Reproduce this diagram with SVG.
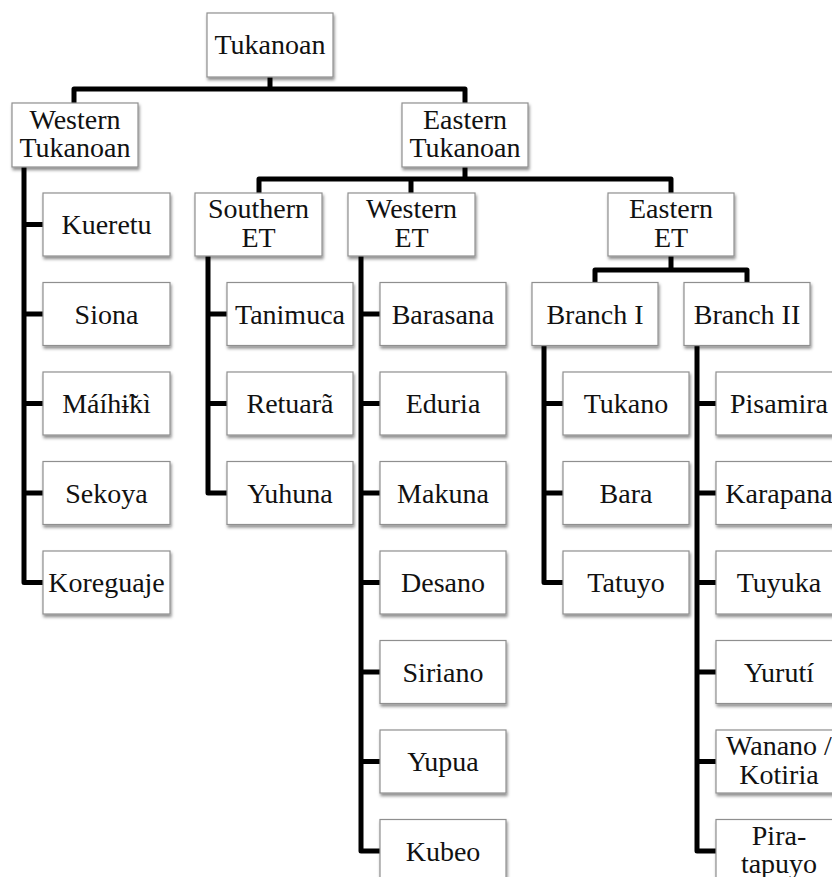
<svg xmlns="http://www.w3.org/2000/svg" width="832" height="877" viewBox="0 0 832 877">
<defs>
<filter id="sh" x="-10%" y="-10%" width="130%" height="140%">
<feDropShadow dx="1" dy="2.5" stdDeviation="1.5" flood-color="#000" flood-opacity="0.45"/>
</filter>
<style>
.b{fill:#fff;stroke:#8f8f8f;stroke-width:1.2;filter:url(#sh)}
.t{font-family:"Liberation Serif","Times New Roman",serif;font-size:28px;fill:#111;text-anchor:middle}
.c{fill:none;stroke:#000;stroke-width:5;stroke-linejoin:round}
</style>
</defs>
<rect width="832" height="877" fill="#fff"/>
<g id="connectors" class="c">
<path d="M270,77V89M74,103V89H465V103"/>
<path d="M465,167V179M259,193V179H671V193M411,179V193"/>
<path d="M671,256V270M595,283V270H747V283"/>
<path d="M24,167V582.5H43M24,224.5H43M24,314H43M24,403.5H43M24,493H43"/>
<path d="M208,256V493H227M208,314H227M208,403.5H227"/>
<path d="M361,256V851H380M361,314H380M361,403.5H380M361,493H380M361,582.5H380M361,672H380M361,761.5H380"/>
<path d="M544,345V582.5H563M544,403.5H563M544,493H563"/>
<path d="M697,345V851H716M697,403.5H716M697,493H716M697,582.5H716M697,672H716M697,761.5H716"/>
</g>
<g id="n-tukanoan"><rect class="b" x="207" y="13" width="126" height="64"/><text class="t" x="270" y="54">Tukanoan</text></g>
<g id="n-western-tukanoan"><rect class="b" x="12" y="103" width="126" height="64"/><text class="t" x="75" y="128.5">Western</text><text class="t" x="75" y="157">Tukanoan</text></g>
<g id="n-eastern-tukanoan"><rect class="b" x="402" y="103" width="126" height="64"/><text class="t" x="465" y="128.5">Eastern</text><text class="t" x="465" y="157">Tukanoan</text></g>
<g id="n-southern-et"><rect class="b" x="195" y="193" width="127" height="63"/><text class="t" x="258.5" y="218">Southern</text><text class="t" x="258.5" y="246.5">ET</text></g>
<g id="n-western-et"><rect class="b" x="348" y="193" width="127" height="63"/><text class="t" x="411.5" y="218">Western</text><text class="t" x="411.5" y="246.5">ET</text></g>
<g id="n-eastern-et"><rect class="b" x="608" y="193" width="126" height="63"/><text class="t" x="671" y="218">Eastern</text><text class="t" x="671" y="246.5">ET</text></g>
<g id="n-branch-1"><rect class="b" x="532" y="282.5" width="126" height="63"/><text class="t" x="595" y="323.5">Branch I</text></g>
<g id="n-branch-2"><rect class="b" x="684" y="282.5" width="126" height="63"/><text class="t" x="747" y="323.5">Branch II</text></g>
<g id="n-kueretu"><rect class="b" x="43" y="193" width="127" height="63"/><text class="t" x="106.5" y="234">Kueretu</text></g>
<g id="n-siona"><rect class="b" x="43" y="282.5" width="127" height="63"/><text class="t" x="106.5" y="323.5">Siona</text></g>
<g id="n-maihiki"><rect class="b" x="43" y="372" width="127" height="63"/><text class="t" x="106.5" y="413">Máíhɨ̃kì</text></g>
<g id="n-sekoya"><rect class="b" x="43" y="461.5" width="127" height="63"/><text class="t" x="106.5" y="502.5">Sekoya</text></g>
<g id="n-koreguaje"><rect class="b" x="43" y="551" width="127" height="63"/><text class="t" x="106.5" y="592">Koreguaje</text></g>
<g id="n-tanimuca"><rect class="b" x="227" y="282.5" width="126" height="63"/><text class="t" x="290" y="323.5">Tanimuca</text></g>
<g id="n-retuara"><rect class="b" x="227" y="372" width="126" height="63"/><text class="t" x="290" y="413">Retuarã</text></g>
<g id="n-yuhuna"><rect class="b" x="227" y="461.5" width="126" height="63"/><text class="t" x="290" y="502.5">Yuhuna</text></g>
<g id="n-barasana"><rect class="b" x="380" y="282.5" width="126" height="63"/><text class="t" x="443" y="323.5">Barasana</text></g>
<g id="n-eduria"><rect class="b" x="380" y="372" width="126" height="63"/><text class="t" x="443" y="413">Eduria</text></g>
<g id="n-makuna"><rect class="b" x="380" y="461.5" width="126" height="63"/><text class="t" x="443" y="502.5">Makuna</text></g>
<g id="n-desano"><rect class="b" x="380" y="551" width="126" height="63"/><text class="t" x="443" y="592">Desano</text></g>
<g id="n-siriano"><rect class="b" x="380" y="640.5" width="126" height="63"/><text class="t" x="443" y="681.5">Siriano</text></g>
<g id="n-yupua"><rect class="b" x="380" y="730" width="126" height="63"/><text class="t" x="443" y="771">Yupua</text></g>
<g id="n-kubeo"><rect class="b" x="380" y="819.5" width="126" height="63"/><text class="t" x="443" y="860.5">Kubeo</text></g>
<g id="n-tukano"><rect class="b" x="563" y="372" width="126" height="63"/><text class="t" x="626" y="413">Tukano</text></g>
<g id="n-bara"><rect class="b" x="563" y="461.5" width="126" height="63"/><text class="t" x="626" y="502.5">Bara</text></g>
<g id="n-tatuyo"><rect class="b" x="563" y="551" width="126" height="63"/><text class="t" x="626" y="592">Tatuyo</text></g>
<g id="n-pisamira"><rect class="b" x="716" y="372" width="126" height="63"/><text class="t" x="779" y="413">Pisamira</text></g>
<g id="n-karapana"><rect class="b" x="716" y="461.5" width="126" height="63"/><text class="t" x="779" y="502.5">Karapana</text></g>
<g id="n-tuyuka"><rect class="b" x="716" y="551" width="126" height="63"/><text class="t" x="779" y="592">Tuyuka</text></g>
<g id="n-yuruti"><rect class="b" x="716" y="640.5" width="126" height="63"/><text class="t" x="779" y="681.5">Yurutí</text></g>
<g id="n-wanano"><rect class="b" x="716" y="730" width="126" height="63"/><text class="t" x="779" y="755">Wanano /</text><text class="t" x="779" y="783.5">Kotiria</text></g>
<g id="n-piratapuyo"><rect class="b" x="716" y="819.5" width="126" height="63"/><text class="t" x="779" y="844.5">Pira-</text><text class="t" x="779" y="873">tapuyo</text></g>
</svg>
